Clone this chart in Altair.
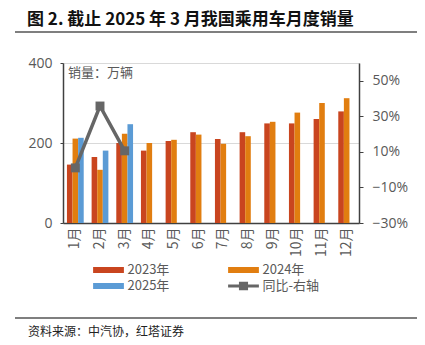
import altair as alt
import pandas as pd

months = ["1月", "2月", "3月", "4月", "5月", "6月", "7月", "8月", "9月", "10月", "11月", "12月"]
sales_2023 = [146, 165, 200, 181, 205, 227, 210, 227, 249, 249, 260, 279]
sales_2024 = [211, 133, 223, 200, 208, 221, 198, 217, 253, 276, 300, 312]
sales_2025 = [213, 181, 247]
yoy_2025 = [1.0, 35.8, 10.6]

years = ["2023年", "2024年", "2025年"]
yoy_name = "同比-右轴"
# legend order (filled column by column): 2023, 2025 | 2024, 同比
legend_order = ["2023年", "2025年", "2024年", "同比-右轴"]
legend_colors = ["#C9451F", "#5B9BD5", "#E17E10", "#666666"]

rows = []
for yr, vals in zip(years, [sales_2023, sales_2024, sales_2025]):
    for m, v in zip(months, vals):
        rows.append({"month": m, "series": yr, "value": v})
bar_df = pd.DataFrame(rows)
line_df = pd.DataFrame({"month": months[:3], "yoy": yoy_2025, "series": yoy_name})

FONT = "Noto Sans CJK SC"
GRAY = "#595959"

color_scale = alt.Scale(domain=legend_order, range=legend_colors)
x_enc = alt.X("month:N", sort=months, title=None,
              scale=alt.Scale(paddingInner=0.32, paddingOuter=0.16),
              axis=alt.Axis(labelAngle=270, labelFontSize=14, labelColor=GRAY, labelFont=FONT,
                            ticks=False, domainColor="#404040", domainWidth=1.5, labelPadding=4))

# custom legend symbols (unit = 7 px with symbolSize 196)
shape_expr = ("datum.value === '同比-右轴' ? "
              "'M-2.2,-0.22H2.2V0.22H-2.2Z M-0.65,-0.62H0.65V0.62H-0.65Z' : 'M-2.2,-0.43H2.2V0.43H-2.2Z'")

legend = alt.Legend(
    orient="none", legendX=38.5, legendY=200, columns=2, title=None,
    labelFont=FONT, labelFontSize=13, labelColor=GRAY, columnPadding=58, rowPadding=2,
    symbolSize=196, symbolStrokeWidth=0, labelOffset=12, symbolOpacity=1,
    symbolType=alt.ExprRef(shape_expr),
)

bars = alt.Chart(bar_df).mark_bar().encode(
    x=x_enc,
    xOffset=alt.XOffset("series:N", scale=alt.Scale(domain=years, paddingInner=0, paddingOuter=0)),
    y=alt.Y("value:Q", title=None, scale=alt.Scale(domain=[0, 400]),
            axis=alt.Axis(values=[0, 200, 400], labelFontSize=14, labelColor=GRAY, labelFont="Open Sans",
                          tickSize=3, tickColor="#404040", domainColor="#404040", domainWidth=1.5,
                          gridColor="#d9d9d9", labelPadding=8)),
    color=alt.Color("series:N", scale=color_scale, legend=legend),
)

line = alt.Chart(line_df).mark_line(
    strokeWidth=3.5, point=alt.OverlayMarkDef(shape="square", size=80, filled=True, opacity=1)
).encode(
    x=alt.X("month:N", sort=months),
    y=alt.Y("yoy:Q", title=None, scale=alt.Scale(domain=[-30, 60]),
            axis=alt.Axis(orient="right", values=[-30, -10, 10, 30, 50], grid=False,
                          labelExpr="format(datum.value, 'd') + '%'",
                          labelFontSize=14, labelColor=GRAY, labelFont="Open Sans",
                          tickSize=4, tickColor="#404040", domainColor="#404040", domainWidth=1.5,
                          labelPadding=9)),
    color=alt.Color("series:N", scale=color_scale),
)

one = pd.DataFrame({"k": [0]})
unit_text = alt.Chart(one).mark_text(text="销量：万辆", font=FONT, fontSize=13, color=GRAY,
                                     align="left", baseline="middle").encode(
    x=alt.value(5), y=alt.value(10))
title = alt.Chart(one).mark_text(text="图 2. 截止 2025 年 3 月我国乘用车月度销量", font=FONT, fontSize=17,
                                 fontWeight="bold", color="#111111", align="left", baseline="middle").encode(
    x=alt.value(-36), y=alt.value(-43))
title_rule = alt.Chart(one).mark_rule(color="#7f7f7f", strokeWidth=2).encode(
    x=alt.value(-48), x2=alt.value(354), y=alt.value(-31))
foot_rule = alt.Chart(one).mark_rule(color="#7f7f7f", strokeWidth=2).encode(
    x=alt.value(-48), x2=alt.value(354), y=alt.value(255))
footer = alt.Chart(one).mark_text(text="资料来源：中汽协，红塔证券", font=FONT, fontSize=12, color="#222222",
                                  align="left", baseline="middle").encode(
    x=alt.value(-35), y=alt.value(269))

main = alt.layer(bars, line).resolve_scale(y="independent")
chart = alt.layer(main, unit_text, title, title_rule, foot_rule, footer).properties(
    width=296, height=160,
    autosize=alt.AutoSizeParams(type="none"),
    padding={"left": 63, "top": 63, "right": 66, "bottom": 122},
).configure_view(stroke=None).configure(background="white")

chart.save("out.html", embed_options={"renderer": "svg", "actions": False})
